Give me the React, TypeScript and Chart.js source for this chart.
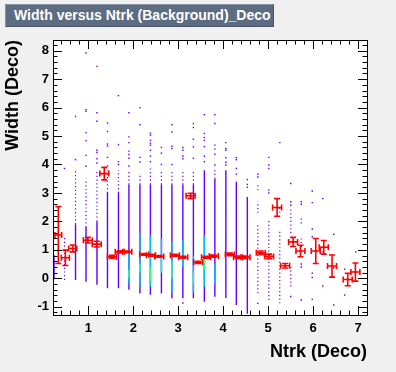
import React, { useEffect, useRef } from "react";
import { Chart, registerables } from "chart.js";
Chart.register(...registerables);

const chartTitle = "Width versus Ntrk (Background)_Deco";
const xTitle = "Ntrk (Deco)";
const yTitle = "Width (Deco)";
const xMajorTicks = [1, 2, 3, 4, 5, 6, 7];
const yMajorTicks = [-1, 0, 1, 2, 3, 4, 5, 6, 7, 8];
const X_MIN = 0.215, X_MAX = 7.2, Y_MIN = -1.29, Y_MAX = 8.376;

// profile (red points with errors)
const profX = [0.333, 0.49, 0.653, 0.99, 1.187, 1.356, 1.527, 1.7, 1.867, 2.244, 2.393, 2.578, 2.927, 3.111, 3.276, 3.444, 3.62, 3.793, 4.149, 4.333, 4.498, 4.838, 5.022, 5.2, 5.378, 5.556, 5.72, 6.06, 6.238, 6.422, 6.771, 6.942];
const profY = [1.52, 0.72, 1.05, 1.34, 1.2, 3.68, 0.76, 0.93, 0.93, 0.84, 0.81, 0.77, 0.81, 0.74, 2.9, 0.56, 0.74, 0.78, 0.84, 0.74, 0.74, 0.9, 0.77, 2.49, 0.44, 1.28, 0.96, 0.96, 1.09, 0.43, -0.04, 0.22];
const profEy = [1.0, 0.27, 0.12, 0.1, 0.1, 0.22, 0.05, 0.04, 0.03, 0.03, 0.03, 0.03, 0.03, 0.03, 0.09, 0.04, 0.03, 0.04, 0.05, 0.04, 0.04, 0.06, 0.08, 0.31, 0.08, 0.16, 0.2, 0.44, 0.24, 0.39, 0.22, 0.32];
const profEx = [0.075, 0.09, 0.09, 0.1, 0.1, 0.1, 0.1, 0.1, 0.1, 0.1, 0.1, 0.1, 0.1, 0.1, 0.1, 0.1, 0.1, 0.1, 0.1, 0.1, 0.1, 0.1, 0.1, 0.1, 0.1, 0.1, 0.1, 0.1, 0.1, 0.1, 0.1, 0.1];

// dense vertical bands of the scatter
const denseX = [0.238, 0.716, 0.949, 1.193, 1.427, 1.671, 1.904, 2.149, 2.382, 2.627, 2.86, 3.104, 3.338, 3.582, 3.816, 4.06, 4.293, 4.538];
const denseLo = [-0.03, -0.06, -0.12, -0.23, -0.35, -0.35, -0.4, -0.53, -0.58, -0.53, -0.7, -0.7, -0.7, -0.82, -0.65, -0.69, -0.94, -1.25];
const denseHi = [0.82, 1.9, 1.8, 2.0, 3.0, 3.0, 3.3, 3.3, 3.3, 3.3, 3.3, 3.3, 3.3, 3.8, 3.5, 3.8, 3.39, 2.86];

// sparse dotted bands
const dashX = [0.471, 0.716, 0.949, 1.193, 1.427, 1.671, 1.904, 2.149, 2.382, 2.627, 2.86, 3.104, 3.338, 3.816, 4.771, 4.771, 4.771, 5.016, 5.26, 5.26, 5.504, 5.504, 5.738, 5.738];
const dashLo = [-0.06, 1.9, 1.8, 2.0, 3.0, 3.0, 3.3, 3.3, 3.3, 3.3, 3.3, 3.3, 3.3, 3.5, -0.52, 2.3, 3.1, -0.76, -0.88, 2.3, 1.59, -0.29, 1.1, 1.93];
const dashHi = [1.46, 3.8, 3.5, 3.8, 3.8, 3.8, 3.8, 3.7, 3.9, 3.8, 3.8, 3.8, 3.8, 3.8, 1.93, 2.7, 3.35, 2.1, 1.7, 2.5, 2.47, 0.47, 1.48, 2.1];

// high-density cores
const coreX = [1.904, 2.149, 2.382, 2.627, 2.86, 3.104, 3.338, 3.582, 3.816];
const coreLo = [-0.17, -0.3, -0.3, 0.2, -0.5, 0.4, -0.5, -0.3, -0.2];
const coreHi = [0.99, 1.6, 1.5, 1.4, 1.3, 1.35, 0.8, 1.5, 0.5];
const greenX = [1.904, 2.149, 2.382, 2.627, 2.86, 3.338, 3.582];
const greenLo = [0.0, 0.2, -0.1, 0.2, 0.0, -0.2, 0.3];
const greenHi = [0.3, 0.5, 0.4, 0.8, 0.6, 0.2, 0.7];

// isolated entries
const outlierCols = [0.471, 0.716, 0.949, 1.193, 1.427, 1.671, 1.904, 2.149, 2.382, 2.627, 2.86, 3.104, 3.338, 3.582, 3.816, 4.06, 4.293, 4.538, 4.771, 5.016, 5.26, 5.504, 5.738, 5.982, 6.216, 6.46, 6.704, 6.949];
const outlierVals = [
  [3.86],
  [5.69, 4.17],
  [7.92, 5.93, 5.87, 5.12, 4.84, 4.32, 3.94],
  [7.45, 5.82, 5.52, 4.5, 4.42, 4.2, 4.05],
  [5.46, 5.16, 4.72, 4.65, 4.25, 3.95],
  [6.42, 4.7, 4.1, 4.0],
  [5.82, 4.97, 4.77, 4.47, 4.35, 4.22, 3.95],
  [6.0, 5.4, 4.25, 4.09],
  [5.1, 5.03, 4.85, 4.75, 4.68, 4.5, 4.3, 4.1],
  [4.6, 4.4, 4.0],
  [5.4, 5.14, 4.64, 4.56, 4.0],
  [4.6, 4.5, 4.3, 4.2, -0.87],
  [5.44, 5.3, 4.89, 4.62, 4.22],
  [5.75, 5.09, 4.95, 4.85, 4.63, 4.29, 4.1],
  [5.75, 5.44, 4.68, 4.54, 4.36, 3.98],
  [4.77, 4.56, 4.5, 4.24, 4.08, 3.98],
  [4.24, 4.17, 3.86, 3.66],
  [3.47, 3.3, 3.2],
  [3.66, 3.56, -0.88],
  [4.25, 3.98, 3.86, 3.1, 3.0],
  [4.77],
  [3.33, 2.69, 2.57, -0.64],
  [2.69, 2.6, 0.5, 0.4, -0.76],
  [3.07, 2.66, 1.73, 1.46, 0.18, 0.03, -0.74],
  [2.8, 0.93, -0.27],
  [1.55, 0.37, -0.94],
  [0.32, -0.59],
  [0.93],
];

const PURPLE = "#6400ff";
const FONT = "'Liberation Sans', Arial, Helvetica, sans-serif";

function segs(xs: number[], lo: number[], hi: number[]) {
  const pts: any[] = [];
  xs.forEach((x, i) => {
    pts.push({ x, y: lo[i] }, { x, y: hi[i] }, { x, y: null });
  });
  return pts;
}

const bgPlugin = {
  id: "bg",
  beforeDraw(chart: any) {
    const { ctx, chartArea: a } = chart;
    ctx.save();
    ctx.fillStyle = "#f0f0f0";
    ctx.fillRect(0, 0, chart.width, chart.height);
    ctx.fillStyle = "#ffffff";
    ctx.fillRect(a.left, a.top, a.right - a.left, a.bottom - a.top);
    ctx.restore();
  },
};

const errPlugin = {
  id: "errbars",
  afterDatasetsDraw(chart: any) {
    const { ctx, chartArea: a } = chart;
    const xs = chart.scales.x, ys = chart.scales.y;
    ctx.save();
    ctx.beginPath();
    ctx.rect(a.left, a.top, a.right - a.left, a.bottom - a.top);
    ctx.clip();
    ctx.strokeStyle = "#ff0000";
    ctx.lineWidth = 1.6;
    const cap = 3;
    profX.forEach((xv, i) => {
      const px = xs.getPixelForValue(xv);
      const py = ys.getPixelForValue(profY[i]);
      const x1 = xs.getPixelForValue(xv - profEx[i]);
      const x2 = xs.getPixelForValue(xv + profEx[i]);
      const y1 = ys.getPixelForValue(profY[i] + profEy[i]);
      const y2 = ys.getPixelForValue(profY[i] - profEy[i]);
      ctx.beginPath();
      ctx.moveTo(x1, py); ctx.lineTo(x2, py);
      ctx.moveTo(px, y1); ctx.lineTo(px, y2);
      ctx.moveTo(x1, py - cap); ctx.lineTo(x1, py + cap);
      ctx.moveTo(x2, py - cap); ctx.lineTo(x2, py + cap);
      ctx.moveTo(px - cap, y1); ctx.lineTo(px + cap, y1);
      ctx.moveTo(px - cap, y2); ctx.lineTo(px + cap, y2);
      ctx.stroke();
    });
    ctx.restore();
  },
};

const framePlugin = {
  id: "frame",
  afterDraw(chart: any) {
    const { ctx, chartArea: a } = chart;
    const xs = chart.scales.x, ys = chart.scales.y;
    ctx.save();
    ctx.strokeStyle = "#000";
    ctx.lineWidth = 1;
    ctx.strokeRect(Math.round(a.left) + 0.5, Math.round(a.top) + 0.5, Math.round(a.right - a.left), Math.round(a.bottom - a.top));
    ctx.beginPath();
    for (let k = Math.ceil(X_MIN / 0.2); k * 0.2 <= X_MAX + 1e-9; k++) {
      const v = k * 0.2;
      const major = Math.abs(v - Math.round(v)) < 1e-6;
      const L = major ? 9 : 4.5;
      const p = Math.round(xs.getPixelForValue(v)) + 0.5;
      ctx.moveTo(p, a.bottom); ctx.lineTo(p, a.bottom - L);
      ctx.moveTo(p, a.top); ctx.lineTo(p, a.top + L);
    }
    for (let k = Math.ceil(Y_MIN / 0.2); k * 0.2 <= Y_MAX + 1e-9; k++) {
      const v = k * 0.2;
      const major = Math.abs(v - Math.round(v)) < 1e-6;
      const L = major ? 9 : 4.5;
      const p = Math.round(ys.getPixelForValue(v)) + 0.5;
      ctx.moveTo(a.left, p); ctx.lineTo(a.left + L, p);
      ctx.moveTo(a.right, p); ctx.lineTo(a.right - L, p);
    }
    ctx.stroke();
    ctx.restore();
  },
};

export default function App() {
  const ref = useRef<HTMLCanvasElement | null>(null);
  useEffect(() => {
    if (!ref.current) return;
    const outliers: any[] = [];
    outlierCols.forEach((x, i) => outlierVals[i].forEach((y) => outliers.push({ x, y })));
    const lineDs = (data: any[], color: string, width: number, order: number, dash?: number[]) => ({
      type: "scatter",
      data,
      showLine: true,
      spanGaps: false,
      borderColor: color,
      borderWidth: width,
      borderDash: dash || [],
      pointRadius: 0,
      order,
    });
    const chart = new Chart(ref.current, {
      type: "scatter",
      data: {
        datasets: [
          {
            data: profX.map((x, i) => ({ x, y: profY[i] })),
            pointStyle: "rect",
            pointRadius: 1.4,
            backgroundColor: "#ff0000",
            borderWidth: 0,
            order: 0,
          } as any,
          {
            data: outliers,
            pointStyle: "rect",
            pointRadius: 1.0,
            backgroundColor: PURPLE,
            borderWidth: 0,
            order: 1,
          },
          lineDs(segs(greenX, greenLo, greenHi), "#30ff80", 1.4, 2),
          lineDs(segs(coreX, coreLo, coreHi), "#00c0ff", 1.4, 3),
          lineDs(segs(dashX, dashLo, dashHi), PURPLE, 1.2, 4, [1.2, 2.5]),
          lineDs(segs(denseX, denseLo, denseHi), PURPLE, 1.4, 5),
        ] as any,
      },
      options: {
        animation: false,
        responsive: false,
        maintainAspectRatio: false,
        events: [],
        layout: { padding: { top: 40, right: 29, left: 0, bottom: 0 } },
        plugins: { legend: { display: false }, tooltip: { enabled: false } },
        scales: {
          x: {
            type: "linear",
            min: X_MIN,
            max: X_MAX,
            grid: { display: false, drawTicks: false },
            border: { display: false },
            ticks: {
              stepSize: 1,
              includeBounds: false,
              autoSkip: false,
              maxRotation: 0,
              padding: 6,
              color: "#000",
              font: { family: FONT, weight: "bold", size: 13 },
              callback: (v: any) => (xMajorTicks.includes(Number(v)) ? String(v) : ""),
            },
            title: {
              display: true,
              text: xTitle,
              align: "end",
              color: "#000",
              font: { family: FONT, weight: "bold", size: 18 },
              padding: { top: 0, bottom: 9 },
            },
            afterFit: (s: any) => { s.height = 57; },
          },
          y: {
            type: "linear",
            min: Y_MIN,
            max: Y_MAX,
            grid: { display: false, drawTicks: false },
            border: { display: false },
            ticks: {
              stepSize: 1,
              includeBounds: false,
              autoSkip: false,
              padding: 4,
              color: "#000",
              font: { family: FONT, weight: "bold", size: 13 },
              callback: (v: any) => (yMajorTicks.includes(Number(v)) ? String(v) : ""),
            },
            title: {
              display: true,
              text: yTitle,
              align: "end",
              color: "#000",
              font: { family: FONT, weight: "bold", size: 18 },
              padding: { top: 2, bottom: 0 },
            },
            afterFit: (s: any) => { s.width = 53; },
          },
        },
      } as any,
      plugins: [bgPlugin, errPlugin, framePlugin],
    });
    return () => chart.destroy();
  }, []);

  return (
    <div style={{ position: "fixed", left: 0, top: 0, width: 396, height: 372 }}>
      <canvas ref={ref} width={396} height={372} style={{ position: "absolute", left: 0, top: 0 }} />
      <div
        style={{
          position: "absolute",
          left: 5,
          top: 4,
          width: 269,
          height: 23,
          boxSizing: "border-box",
          background: "#5d6c80",
          borderTop: "1px solid #8794a6",
          borderLeft: "1px solid #8794a6",
          borderRight: "1px solid #46536a",
          borderBottom: "1px solid #46536a",
          color: "#fff",
          fontFamily: FONT,
          fontWeight: "bold",
          fontSize: 14,
          lineHeight: "21px",
          paddingLeft: 8,
          whiteSpace: "nowrap",
        }}
      >
        {chartTitle}
      </div>
    </div>
  );
}
